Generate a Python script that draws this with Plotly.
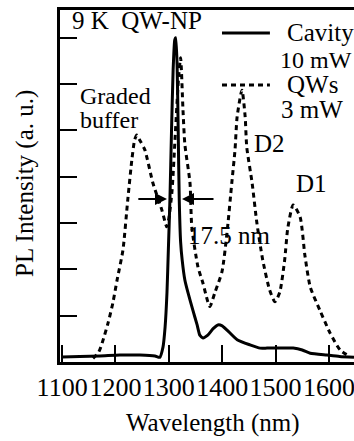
import plotly.graph_objects as go

# Cavity (solid) spectrum: wavelength (nm), PL intensity (a.u.)
cavity_wl = [1100, 1133, 1171, 1208, 1246, 1274, 1283, 1289, 1293, 1296.5, 1299, 1302, 1305, 1308,
             1311, 1313, 1315.5, 1317.5, 1319.5, 1322, 1325, 1330, 1336, 1345, 1353, 1358, 1364,
             1373, 1383, 1392, 1400, 1409, 1428, 1452, 1471, 1484, 1510, 1533, 1550, 1565, 1596, 1620, 1647]
cavity_pl = [0.11, 0.12, 0.13, 0.15, 0.15, 0.13, 0.1, 0.32, 0.76, 1.5, 2.4, 3.5, 5.0, 6.3,
             6.95, 7.0, 6.4, 5.0, 3.5, 2.6, 2.2, 1.77, 1.49, 1.12, 0.8, 0.58, 0.52,
             0.58, 0.72, 0.8, 0.78, 0.69, 0.48, 0.37, 0.3, 0.3, 0.3, 0.3, 0.26, 0.19, 0.15, 0.12, 0.1]

# QWs (dashed) spectrum
qw_wl = [1158, 1168, 1175, 1186, 1195, 1203, 1214, 1223, 1231, 1236, 1240, 1245, 1255, 1270, 1287,
         1296, 1300, 1306, 1312, 1318, 1322, 1326.5, 1330, 1339.6, 1343, 1354.6, 1364, 1373, 1377,
         1386, 1399.6, 1409, 1418, 1424, 1428, 1437, 1443, 1446, 1456, 1465, 1476, 1489, 1499,
         1508, 1517, 1523, 1533, 1546, 1555, 1565, 1583, 1602, 1621, 1640]
qw_pl = [0.08, 0.2, 0.41, 0.84, 1.27, 1.77, 2.42, 3.5, 4.4, 4.8, 4.9, 4.8, 4.58, 3.87, 3.28,
         2.92, 3.1, 3.7, 4.9, 6.1, 6.57, 5.44, 4.7, 3.87, 2.92, 2.05, 1.7, 1.3, 1.2,
         1.49, 1.95, 2.79, 3.87, 4.58, 5.3, 5.87, 5.3, 4.64, 3.87, 3.0, 2.2, 1.55, 1.3,
         1.51, 2.2, 2.9, 3.39, 3.13, 2.3, 1.62, 1.12, 0.63, 0.26, 0.11]

x_ticks = [1100, 1200, 1300, 1400, 1500, 1600]
y_ticks = [0, 1, 2, 3, 4, 5, 6, 7]

FONT = "Liberation Serif"

fig = go.Figure()
fig.add_trace(go.Scatter(x=qw_wl, y=qw_pl, mode="lines",
                         line=dict(color="black", width=3, dash="5px,4px", shape="spline", smoothing=0.6),
                         showlegend=False))
fig.add_trace(go.Scatter(x=cavity_wl, y=cavity_pl, mode="lines",
                         line=dict(color="black", width=3, shape="spline", smoothing=0.5),
                         showlegend=False))

fig.update_layout(
    width=354, height=441,
    margin=dict(l=60, r=0, t=10, b=79),
    paper_bgcolor="white", plot_bgcolor="white",
    font=dict(family=FONT, size=25, color="black"),
    xaxis=dict(range=[1096, 1647], tickvals=x_ticks, ticktext=[str(v) for v in x_ticks],
               ticks="inside", ticklen=17, tickwidth=2, tickcolor="black", tickangle=0,
               ticklabeloverflow="allow",
               showline=True, linewidth=3, linecolor="black", mirror=True,
               showgrid=False, zeroline=False, tickfont=dict(size=26, family=FONT)),
    yaxis=dict(range=[0, 7.6], tickvals=y_ticks, showticklabels=False,
               ticks="inside", ticklen=17, tickwidth=2, tickcolor="black",
               showline=True, linewidth=3, linecolor="black",
               showgrid=False, zeroline=False),
)

def ann(text, x, y, xanchor="center", size=25, xref="paper", yref="paper", **kw):
    fig.add_annotation(text=text, x=x, y=y, xref=xref, yref=yref, showarrow=False,
                       xanchor=xanchor, yanchor="middle",
                       font=dict(family=FONT, size=size, color="black"), **kw)

# axis titles
ann("Wavelength (nm)", 0.52, -0.173)
ann("PL Intensity (a. u.)", -0.119, 0.506, textangle=-90)

# labels
ann("9 K&nbsp;&nbsp;QW-NP", 0.034, 0.97, xanchor="left")
ann("Cavity", 0.765, 0.935, xanchor="left")
ann("10 mW", 0.74, 0.858, xanchor="left", size=24)
ann("QWs", 0.765, 0.787, xanchor="left")
ann("3 mW", 0.745, 0.716, xanchor="left")
ann("Graded", 0.06, 0.755, xanchor="left", size=24)
ann("buffer", 0.06, 0.688, xanchor="left", size=24)
ann("D2", 0.714, 0.62, xanchor="center")
ann("D1", 0.857, 0.508, xanchor="center")
ann("17.5 nm", 0.578, 0.36, xanchor="center")

# legend lines
fig.add_shape(type="line", xref="paper", yref="paper", x0=0.551, x1=0.714, y0=0.935, y1=0.935,
              line=dict(color="black", width=3))
fig.add_shape(type="line", xref="paper", yref="paper", x0=0.551, x1=0.714, y0=0.787, y1=0.787,
              line=dict(color="black", width=3, dash="5px,4px"))

# FWHM arrows
fig.add_annotation(x=1296.5, y=3.52, ax=1240, ay=3.52, xref="x", yref="y", axref="x", ayref="y",
                   showarrow=True, arrowhead=2, arrowsize=1.2, arrowwidth=2, arrowcolor="black", text="")
fig.add_annotation(x=1324.6, y=3.52, ax=1386.5, ay=3.52, xref="x", yref="y", axref="x", ayref="y",
                   showarrow=True, arrowhead=2, arrowsize=1.2, arrowwidth=2, arrowcolor="black", text="")

fig.write_html("out.html", config={"displayModeBar": False},
               post_script="document.body.style.margin='0';document.body.style.overflow='hidden';")
